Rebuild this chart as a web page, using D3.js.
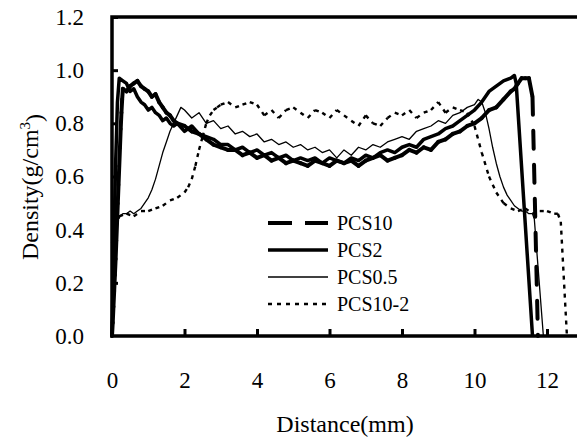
<!DOCTYPE html>
<html>
<head>
<meta charset="utf-8">
<script src="https://cdn.jsdelivr.net/npm/d3@7"></script>
<style>
body { margin: 0; background: #fff; }
svg { display: block; }
</style>
</head>
<body>
<div id="chart"></div>
<script>
// distance (mm) and density (g/cm3)
var pcs10X = [0, 0.02, 0.04, 0.06, 0.08, 0.10, 0.12, 0.14, 0.16, 0.18, 0.20, 0.22, 0.24, 0.26, 0.28, 0.3,
  0.4, 0.5, 0.6, 0.7, 0.8, 0.9, 1.0, 1.1, 1.2, 1.3, 1.4, 1.5, 1.6, 1.7, 1.8,
  2.0, 2.2, 2.4, 2.6, 2.8, 3.0, 3.2, 3.4, 3.6, 3.8, 4.0, 4.2, 4.4, 4.6, 4.8, 5.0, 5.2, 5.4, 5.6, 5.8,
  6.0, 6.2, 6.4, 6.6, 6.8, 7.0, 7.2, 7.4, 7.6, 7.8, 8.0, 8.2, 8.4, 8.6, 8.8, 9.0, 9.2, 9.4, 9.6, 9.8,
  10.0, 10.2, 10.4, 10.6, 10.8, 11.0, 11.1, 11.2, 11.3, 11.4, 11.5, 11.6, 11.75];
var pcs10Y = [0, 0.05, 0.11, 0.17, 0.23, 0.29, 0.36, 0.43, 0.50, 0.57, 0.64, 0.71, 0.78, 0.84, 0.89, 0.93,
  0.92, 0.94, 0.95, 0.96, 0.94, 0.93, 0.92, 0.90, 0.91, 0.88, 0.86, 0.84, 0.83, 0.81, 0.80,
  0.79, 0.77, 0.76, 0.74, 0.72, 0.71, 0.70, 0.70, 0.68, 0.69, 0.67, 0.68, 0.66, 0.67, 0.65, 0.66, 0.65, 0.64, 0.66, 0.65,
  0.64, 0.66, 0.65, 0.66, 0.64, 0.66, 0.67, 0.68, 0.66, 0.67, 0.68, 0.70, 0.69, 0.71, 0.70, 0.73, 0.74, 0.76, 0.77, 0.79,
  0.80, 0.82, 0.85, 0.86, 0.89, 0.92, 0.93, 0.95, 0.97, 0.97, 0.97, 0.90, 0];

var pcs2X = [0, 0.05, 0.1, 0.15, 0.2, 0.3, 0.4, 0.5, 0.6, 0.7, 0.8, 0.9, 1.0, 1.1, 1.2, 1.3, 1.4, 1.5, 1.6, 1.7, 1.8,
  2.0, 2.2, 2.4, 2.6, 2.8, 3.0, 3.2, 3.4, 3.6, 3.8, 4.0, 4.2, 4.4, 4.6, 4.8, 5.0, 5.2, 5.4, 5.6, 5.8,
  6.0, 6.2, 6.4, 6.6, 6.8, 7.0, 7.2, 7.4, 7.6, 7.8, 8.0, 8.2, 8.4, 8.6, 8.8, 9.0, 9.2, 9.4, 9.6, 9.8,
  10.0, 10.2, 10.4, 10.6, 10.8, 11.0, 11.1, 11.15, 11.6];
var pcs2Y = [0, 0.35, 0.65, 0.88, 0.97, 0.96, 0.95, 0.92, 0.93, 0.90, 0.88, 0.87, 0.85, 0.86, 0.84, 0.83, 0.81, 0.82, 0.80, 0.79, 0.80,
  0.77, 0.79, 0.76, 0.75, 0.74, 0.72, 0.72, 0.70, 0.71, 0.69, 0.70, 0.68, 0.69, 0.67, 0.68, 0.66, 0.67, 0.66, 0.67, 0.65,
  0.67, 0.66, 0.65, 0.67, 0.66, 0.68, 0.67, 0.69, 0.70, 0.69, 0.71, 0.72, 0.71, 0.74, 0.75, 0.76, 0.78, 0.79, 0.81, 0.83,
  0.85, 0.88, 0.92, 0.94, 0.96, 0.97, 0.98, 0.95, 0];

var pcs05X = [0, 0.1, 0.2, 0.3, 0.4, 0.5, 0.6, 0.7, 0.8, 0.9, 1.0, 1.1, 1.2, 1.3, 1.4, 1.5, 1.6, 1.7, 1.8, 1.9,
  2.0, 2.2, 2.4, 2.6, 2.8, 3.0, 3.2, 3.4, 3.6, 3.8, 4.0, 4.2, 4.4, 4.6, 4.8, 5.0, 5.2, 5.4, 5.6, 5.8,
  6.0, 6.2, 6.4, 6.6, 6.8, 7.0, 7.2, 7.4, 7.6, 7.8, 8.0, 8.2, 8.4, 8.6, 8.8, 9.0, 9.2, 9.4, 9.6, 9.8, 10.0,
  10.1, 10.2, 10.3, 10.4, 10.5, 10.6, 10.7, 10.8, 10.9, 11.0, 11.1, 11.2, 11.3, 11.4, 11.5, 11.6, 11.65, 11.9];
var pcs05Y = [0.37, 0.42, 0.45, 0.46, 0.46, 0.47, 0.46, 0.47, 0.48, 0.50, 0.52, 0.55, 0.59, 0.64, 0.69, 0.73, 0.77, 0.80, 0.83, 0.86,
  0.85, 0.82, 0.84, 0.80, 0.81, 0.78, 0.79, 0.76, 0.77, 0.75, 0.76, 0.73, 0.74, 0.72, 0.73, 0.71, 0.72, 0.70, 0.71, 0.69,
  0.70, 0.67, 0.70, 0.68, 0.71, 0.70, 0.72, 0.71, 0.73, 0.74, 0.75, 0.74, 0.77, 0.78, 0.79, 0.81, 0.80, 0.83, 0.84, 0.86, 0.87,
  0.89, 0.88, 0.84, 0.78, 0.71, 0.65, 0.60, 0.56, 0.53, 0.51, 0.49, 0.48, 0.47, 0.47, 0.46, 0.46, 0.44, 0];

var pcs102X = [0, 0.1, 0.2, 0.4, 0.6, 0.8, 1.0, 1.2, 1.4, 1.6, 1.8, 2.0, 2.1, 2.2, 2.3, 2.4, 2.5, 2.6, 2.7, 2.8, 2.9,
  3.0, 3.2, 3.4, 3.6, 3.8, 4.0, 4.2, 4.4, 4.6, 4.8, 5.0, 5.2, 5.4, 5.6, 5.8,
  6.0, 6.2, 6.4, 6.6, 6.8, 7.0, 7.2, 7.4, 7.6, 7.8, 8.0, 8.2, 8.4, 8.6, 8.8, 9.0, 9.2, 9.4, 9.6, 9.8, 10.0,
  10.2, 10.4, 10.6, 10.8, 11.0, 11.2, 11.4, 11.6, 11.8, 12.0, 12.2, 12.3, 12.38, 12.55];
var pcs102Y = [0.35, 0.41, 0.45, 0.46, 0.45, 0.47, 0.47, 0.48, 0.49, 0.51, 0.52, 0.54, 0.56, 0.59, 0.64, 0.70, 0.75, 0.80, 0.83, 0.85, 0.86,
  0.87, 0.88, 0.86, 0.87, 0.88, 0.87, 0.83, 0.85, 0.82, 0.85, 0.86, 0.84, 0.82, 0.85, 0.84,
  0.82, 0.85, 0.83, 0.81, 0.79, 0.83, 0.80, 0.79, 0.82, 0.84, 0.83, 0.85, 0.82, 0.84, 0.85, 0.88, 0.84, 0.86, 0.85, 0.84, 0.79,
  0.69, 0.60, 0.54, 0.50, 0.48, 0.47, 0.48, 0.46, 0.47, 0.47, 0.46, 0.46, 0.43, 0];

var seriesNames = ["PCS10", "PCS2", "PCS0.5", "PCS10-2"];
var xTicks = [0, 2, 4, 6, 8, 10, 12];
var yTicks = [0, 0.2, 0.4, 0.6, 0.8, 1.0, 1.2];

var styles = {
  "PCS10":   {width: 4,   dash: "18,16", legendDash: "24,13", segments: true},
  "PCS2":    {width: 3.5, dash: null,    legendDash: null,    segments: false},
  "PCS0.5":  {width: 1.3, dash: null,    legendDash: null,    segments: false},
  "PCS10-2": {width: 2.4, dash: "4,5",   legendDash: "4,5",   segments: true}
};

var serif = "Liberation Serif";
var svgWidth = 577;
var svgHeight = 445;

var svg = d3.select("#chart").append("svg")
    .attr("width", svgWidth)
    .attr("height", svgHeight);

var x = d3.scaleLinear().domain([0, 13]).range([112, 583.25]);
var y = d3.scaleLinear().domain([0, 1.2]).range([336, 17]);

var chart = svg.append("g");

function drawSeries(name, xs, ys) {
  var st = styles[name];
  var pts = xs.map(function(v, i) { return [v, ys[i]]; });
  if (st.segments) {
    // excel restarts the dash pattern on every segment
    chart.append("g").selectAll("line")
      .data(d3.pairs(pts))
      .enter()
      .append("line")
      .attr("x1", function(d) { return x(d[0][0]); })
      .attr("y1", function(d) { return y(d[0][1]); })
      .attr("x2", function(d) { return x(d[1][0]); })
      .attr("y2", function(d) { return y(d[1][1]); })
      .attr("stroke", "#000")
      .attr("stroke-width", st.width)
      .attr("stroke-linecap", name == "PCS10" ? "round" : "butt")
      .attr("stroke-dasharray", st.dash);
  } else {
    chart.append("path")
      .datum(pts)
      .attr("fill", "none")
      .attr("stroke", "#000")
      .attr("stroke-width", st.width)
      .attr("stroke-linejoin", "round")
      .attr("d", d3.line().x(function(d) { return x(d[0]); }).y(function(d) { return y(d[1]); }));
  }
}

drawSeries("PCS10-2", pcs102X, pcs102Y);
drawSeries("PCS0.5", pcs05X, pcs05Y);
drawSeries("PCS2", pcs2X, pcs2Y);
drawSeries("PCS10", pcs10X, pcs10Y);

// frame (right side falls outside the picture)
chart.append("rect")
    .attr("x", x(0))
    .attr("y", y(1.2))
    .attr("width", x(13) - x(0))
    .attr("height", y(0) - y(1.2))
    .attr("fill", "none")
    .attr("stroke", "#000")
    .attr("stroke-width", 3.5);

var leftAxis = d3.axisLeft(y).tickValues(yTicks).tickSizeInner(-6).tickSizeOuter(0)
    .tickPadding(28).tickFormat(d3.format(".1f"));
var bottomAxis = d3.axisBottom(x).tickValues(xTicks).tickSizeInner(-7).tickSizeOuter(0)
    .tickPadding(36).tickFormat(d3.format("d"));

var gy = chart.append("g").attr("transform", "translate(" + x(0) + ",0)").call(leftAxis);
var gx = chart.append("g").attr("transform", "translate(0," + y(0) + ")").call(bottomAxis);
[gx, gy].forEach(function(g) {
  g.select(".domain").remove();
  g.selectAll("line").attr("stroke", "#000").attr("stroke-width", 3);
  g.selectAll("text")
    .attr("fill", "#000")
    .style("font-family", serif)
    .style("font-size", "23px");
});
gx.selectAll(".tick").filter(function(d) { return d === 0; }).select("line").remove();
gy.selectAll(".tick").filter(function(d) { return d === 0; }).select("line").remove();

// axis titles
svg.append("text")
    .attr("x", 345)
    .attr("y", 432)
    .attr("text-anchor", "middle")
    .style("font-family", serif)
    .style("font-size", "24px")
    .text("Distance(mm)");

var yTitle = svg.append("text")
    .attr("transform", "translate(38,187) rotate(-90)")
    .attr("text-anchor", "middle")
    .style("font-family", serif)
    .style("font-size", "24px");
yTitle.append("tspan").text("Density(g/cm");
yTitle.append("tspan").attr("dy", "-0.55em").style("font-size", "15px").text("3");
yTitle.append("tspan").attr("dy", "0.5em").text(")");

// legend
var legend = svg.append("g").attr("transform", "translate(268,223)");
seriesNames.forEach(function(name, i) {
  var st = styles[name];
  var row = legend.append("g").attr("transform", "translate(0," + (i * 27) + ")");
  row.append("line")
    .attr("x1", 0).attr("x2", 60).attr("y1", 0).attr("y2", 0)
    .attr("stroke", "#000")
    .attr("stroke-width", st.width)
    .attr("stroke-dasharray", st.legendDash);
  row.append("text")
    .attr("x", 69)
    .attr("y", 7)
    .style("font-family", serif)
    .style("font-size", "20px")
    .text(name);
});
</script>
</body>
</html>
